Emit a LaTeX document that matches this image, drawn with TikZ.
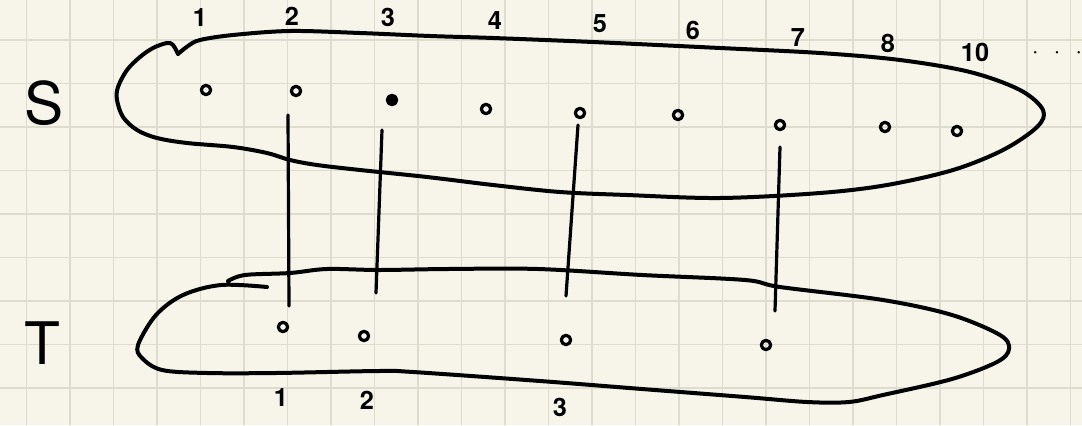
\documentclass[tikz,border=0pt]{standalone}
\usepackage{fontspec}
\setmainfont{TeX Gyre Heros}
\definecolor{papel}{RGB}{247,245,234}
\definecolor{rejilla}{RGB}{221,220,207}

\begin{document}
\begin{tikzpicture}[x=0.75pt,y=-0.75pt,line cap=round,line join=round,
  cuadro/.style={rejilla,line width=1.1pt},
  trazo/.style={line width=3pt},
  enlace/.style={line width=2.4pt},
  punto/.style={circle,draw,line width=2.4pt,inner sep=0pt,minimum size=7pt},
  lleno/.style={punto,fill},
  num/.style={font=\fontsize{19}{19}\selectfont\bfseries},
  conj/.style={font=\fontsize{44}{44}\selectfont}]
  \useasboundingbox (0,0) rectangle (1082,425);
  % papel cuadriculado
  \fill[papel] (0,0) rectangle (1082,425);
  \foreach \i in {0,...,24}
    \draw[cuadro] (26.7+43.5*\i,0) -- (26.7+43.5*\i,425);
  \foreach \j in {0,...,8}
    \draw[cuadro] (0,40+43.5*\j) -- (1082,40+43.5*\j);
  % conjunto S
  \draw[trazo] plot[smooth,tension=0.55] coordinates {(178,54) (188,46) (200,40)
    (233,35) (290,31) (360,33) (430,36) (493,38) (593,42) (720,48) (820,53)
    (900,60) (970,72) (1020,90) (1043,110) (1037,127) (1003,150) (953,170)
    (887,185) (820,193) (720,198) (627,195) (560,192) (493,185) (427,177)
    (360,170) (317,165) (290,160) (267,153) (233,147) (187,143) (157,138)
    (137,130) (123,117) (117,100) (118,87) (127,70) (140,57) (153,48)
    (167,43) (173,45) (178,54)};
  \node[conj] (S) at (44,103) {S};
  \foreach \n/\x/\y in {1/206/90, 2/296/91, 4/486/109, 5/580/113, 6/678/115,
      7/780/125, 8/885/127, 10/957/131}
    \node[punto] (s\n) at (\x,\y) {};
  \node[lleno] (s3) at (392,100) {};
  \foreach \n/\x/\y in {1/200/18, 2/292/16, 3/388/17, 4/495/21, 5/600/24,
      6/693/30, 7/798/38, 8/888/43, 10/975/52}
    \node[num] (e\n) at (\x,\y) {\n};
  \node[num,inner sep=0pt] (mas) at (1057,53) {$\cdot\,\;\cdot\,\;\cdot$};
  % conjunto T
  \draw[trazo] plot[smooth,tension=0.55] coordinates {(228,281) (245,275)
    (290,273) (327,269) (379,270) (448,269) (538,269) (642,275) (745,280)
    (780,287) (883,300) (952,315) (1000,335) (1009,349) (997,362) (952,379)
    (883,395) (849,402) (807,402) (745,397) (642,389) (540,381) (413,372)
    (379,371) (276,373) (207,373) (162,370) (142,358) (138,345) (156,315)
    (183,295) (221,285) (267,287)};
  \node[conj] (T) at (42,343) {T};
  \node[punto] (t1) at (283,327) {};
  \node[punto] (t2) at (364,336) {};
  \node[punto] (t3) at (566,340) {};
  \node[punto] (t4) at (766,345) {};
  \node[num] (f1) at (281,398) {1};
  \node[num] (f2) at (367,400) {2};
  \node[num] (f3) at (560,407) {3};
  % correspondencias
  \draw[enlace] ([shift={(-8,24)}]s2.center) -- ([shift={(6,-21)}]t1.center);
  \draw[enlace] ([shift={(-10,30)}]s3.center) -- ([shift={(12,-43)}]t2.center);
  \draw[enlace] ([shift={(-2,12)}]s5.center) -- ([shift={(0,-44)}]t3.center);
  \draw[enlace] ([shift={(0,22)}]s7.center) -- ([shift={(9,-34)}]t4.center);
\end{tikzpicture}
\end{document}
